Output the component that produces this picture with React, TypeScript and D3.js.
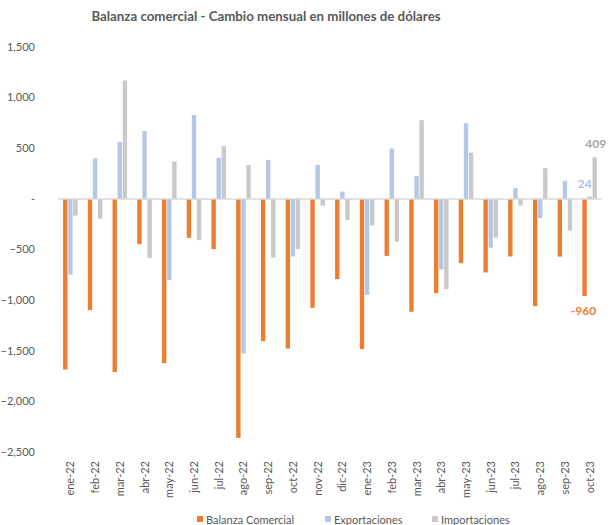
import { useEffect, useRef } from 'react';
import * as d3 from 'd3';

const months = [
  'ene-22', 'feb-22', 'mar-22', 'abr-22', 'may-22', 'jun-22', 'jul-22', 'ago-22', 'sep-22', 'oct-22', 'nov-22',
  'dic-22', 'ene-23', 'feb-23', 'mar-23', 'abr-23', 'may-23', 'jun-23', 'jul-23', 'ago-23', 'sep-23', 'oct-23',
];
const balanza = [
  -1685, -1099, -1710, -447, -1622, -385, -497, -2360, -1405, -1478, -1076,
  -793, -1484, -563, -1115, -931, -635, -727, -569, -1059, -570, -960,
];
const exportaciones = [
  -747, 400, 563, 670, -802, 829, 405, -1527, 385, -569, 335,
  72, -948, 497, 224, -698, 747, -481, 105, -190, 178, 24,
];
const importaciones = [
  -165, -195, 1170, -585, 368, -408, 520, 335, -579, -497, -66,
  -210, -263, -424, 777, -891, 457, -382, -66, 303, -313, 409,
];
const seriesNames = ['Balanza Comercial', 'Exportaciones', 'Importaciones'];
const seriesColors = ['#ED7D31', '#B4C7E7', '#C9C9C9'];
const labelColors = ['#ED7D31', '#A9C1E8', '#A5A5A5'];
const yTicks = [1500, 1000, 500, 0, -500, -1000, -1500, -2000, -2500];

const W = 613;
const H = 525;
const FONT = 'Lato, "Noto Sans", sans-serif';

export default function App() {
  const svgRef = useRef<SVGSVGElement>(null);

  useEffect(() => {
    if (!svgRef.current) return;
    const svg = d3.select(svgRef.current);
    svg.selectAll('*').remove();

    const left = 58, right = 602, top = 47, bottom = 452;
    const series = [balanza, exportaciones, importaciones];

    const x = d3.scaleBand<string>().domain(months).range([left, right]);
    const xs = d3.scaleBand<number>()
      .domain([0, 1, 2])
      .range([0, x.bandwidth()])
      .paddingInner(0.14)
      .paddingOuter(1);
    const y = d3.scaleLinear().domain([-2500, 1500]).range([bottom, top]);

    // Title
    svg.append('text')
      .attr('x', 266)
      .attr('y', 21)
      .attr('text-anchor', 'middle')
      .attr('fill', '#595959')
      .attr('font-family', FONT)
      .attr('font-size', '13.3px')
      .attr('font-weight', 700)
      .text('Balanza comercial - Cambio mensual en millones de dólares');

    // Y tick labels
    svg.append('g')
      .selectAll('text')
      .data(yTicks)
      .join('text')
      .attr('x', 35)
      .attr('y', d => y(d))
      .attr('dy', '0.35em')
      .attr('text-anchor', 'end')
      .attr('fill', '#595959')
      .attr('font-family', FONT)
      .attr('font-size', '11px')
      .text(d => (d === 0 ? '-' : d3.format(',')(d)));

    // Bars
    series.forEach((vals, si) => {
      svg.append('g')
        .selectAll('rect')
        .data(vals)
        .join('rect')
        .attr('x', (_d, i) => (x(months[i]) ?? 0) + (xs(si) ?? 0))
        .attr('y', d => y(Math.max(0, d)))
        .attr('width', xs.bandwidth())
        .attr('height', d => Math.abs(y(d) - y(0)))
        .attr('fill', seriesColors[si]);
    });

    // Zero line
    svg.append('line')
      .attr('x1', left)
      .attr('x2', right)
      .attr('y1', y(0))
      .attr('y2', y(0))
      .attr('stroke', '#D9D9D9')
      .attr('stroke-width', 1.5);

    // Data labels for last month
    const last = months.length - 1;
    const labelOffsets = [
      { dx: -1, dy: 19 },
      { dx: -5, dy: -8 },
      { dx: 1, dy: -9 },
    ];
    series.forEach((vals, si) => {
      const v = vals[last];
      const cx = (x(months[last]) ?? 0) + (xs(si) ?? 0) + xs.bandwidth() / 2;
      svg.append('text')
        .attr('x', cx + labelOffsets[si].dx)
        .attr('y', y(v) + labelOffsets[si].dy)
        .attr('text-anchor', 'middle')
        .attr('fill', labelColors[si])
        .attr('font-family', FONT)
        .attr('font-size', '12px')
        .attr('font-weight', 700)
        .text(String(v));
    });

    // X labels (rotated)
    svg.append('g')
      .selectAll('text')
      .data(months)
      .join('text')
      .attr('transform', d => `translate(${(x(d) ?? 0) + x.bandwidth() / 2 + 4},461) rotate(-90)`)
      .attr('text-anchor', 'end')
      .attr('fill', '#595959')
      .attr('font-family', FONT)
      .attr('font-size', '11px')
      .text(d => d);

    // Legend
    const legendX = [197, 325, 432];
    const legend = svg.append('g');
    seriesNames.forEach((name, i) => {
      legend.append('rect')
        .attr('x', legendX[i])
        .attr('y', 516)
        .attr('width', 6)
        .attr('height', 6)
        .attr('fill', seriesColors[i]);
      legend.append('text')
        .attr('x', legendX[i] + 9)
        .attr('y', 524)
        .attr('fill', '#595959')
        .attr('font-family', FONT)
        .attr('font-size', '11px')
        .text(name);
    });
  }, []);

  return (
    <div style={{ position: 'absolute', left: 0, top: 0, width: W, height: H, background: '#fff' }}>
      <svg ref={svgRef} width={W} height={H} />
    </div>
  );
}
